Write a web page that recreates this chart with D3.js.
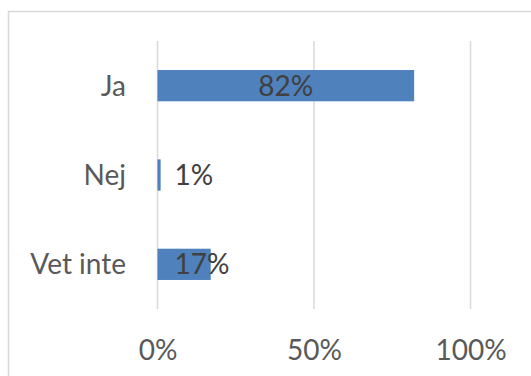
<!DOCTYPE html>
<html>
<head>
<meta charset="utf-8">
<script src="https://cdn.jsdelivr.net/npm/d3@7"></script>
<style>
  html, body { margin: 0; padding: 0; background: #fff; }
  svg { display: block; }
  text { font-family: Lato, "Open Sans", sans-serif; }
</style>
</head>
<body>
<svg id="chart" width="531" height="376"></svg>
<script>
// Survey answers and their shares
const categories = ["Ja", "Nej", "Vet inte"];
const shares = [0.82, 0.01, 0.17];
const tickValues = [0, 0.5, 1];
const tickLabels = ["0%", "50%", "100%"];

const W = 531, H = 376;
const svg = d3.select("#chart");
const fontSize = 28;

// Chart frame (runs off the right and bottom edges)
svg.append("rect")
  .attr("x", 8.5).attr("y", 11.5)
  .attr("width", W + 20).attr("height", H + 20)
  .attr("fill", "#fff")
  .attr("stroke", "#d9d9d9")
  .attr("stroke-width", 1.5);

const plot = { left: 157.5, right: 470.5, top: 41, bottom: 309 };

const x = d3.scaleLinear().domain([0, 1]).range([plot.left, plot.right]);
const y = d3.scaleBand().domain(categories)
  .range([plot.top, plot.bottom])
  .paddingInner(0.65).paddingOuter(0.325);

// Vertical gridlines
svg.append("g")
  .selectAll("line")
  .data(tickValues)
  .join("line")
  .attr("x1", d => x(d)).attr("x2", d => x(d))
  .attr("y1", plot.top).attr("y2", plot.bottom)
  .attr("stroke", "#d9d9d9")
  .attr("stroke-width", 1.5);

// Bars
svg.append("g")
  .selectAll("rect")
  .data(categories)
  .join("rect")
  .attr("x", x(0))
  .attr("y", d => y(d))
  .attr("width", (d, i) => x(shares[i]) - x(0))
  .attr("height", y.bandwidth())
  .attr("fill", "#4f81bd");

// Category axis labels
svg.append("g")
  .selectAll("text")
  .data(categories)
  .join("text")
  .attr("x", 126)
  .attr("y", d => y(d) + y.bandwidth() / 2)
  .attr("dy", "0.36em")
  .attr("text-anchor", "end")
  .attr("font-size", fontSize)
  .attr("fill", "#595959")
  .text(d => d);

// Value axis tick labels
const xAxis = d3.axisBottom(x)
  .tickValues(tickValues)
  .tickFormat((d, i) => tickLabels[i])
  .tickSize(0)
  .tickPadding(0);
const ax = svg.append("g")
  .attr("transform", `translate(0, 339)`)
  .call(xAxis);
ax.select(".domain").remove();
ax.selectAll("text")
  .attr("font-size", fontSize)
  .attr("font-family", "Lato, 'Open Sans', sans-serif")
  .attr("fill", "#595959")
  .attr("dy", "0.74em");

// Data labels: centred when the bar has room, else set just past the base
const fmt = d3.format(".0%");
svg.append("g")
  .selectAll("text")
  .data(categories)
  .join("text")
  .each(function (d, i) {
    const w = x(shares[i]) - x(0);
    const roomy = w > 120;
    d3.select(this)
      .attr("x", roomy ? x(0) + w / 2 : x(0) + 17)
      .attr("text-anchor", roomy ? "middle" : "start");
  })
  .attr("y", d => y(d) + y.bandwidth() / 2)
  .attr("dy", "0.36em")
  .attr("font-size", fontSize)
  .attr("fill", "#404040")
  .text((d, i) => fmt(shares[i]));
</script>
</body>
</html>
